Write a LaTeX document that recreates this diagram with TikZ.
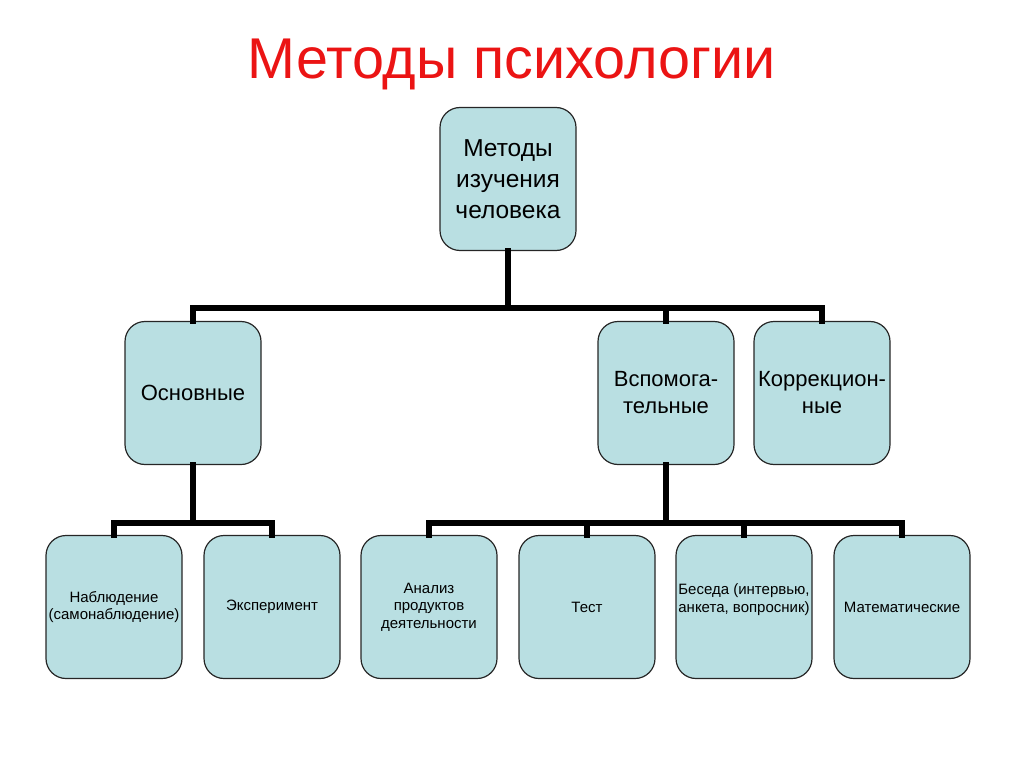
\documentclass[tikz,border=0pt]{standalone}
\usepackage{fontspec}
\setmainfont{Liberation Sans}
\definecolor{boxfill}{RGB}{185,223,226}
\definecolor{titlered}{RGB}{235,20,20}
\begin{document}
\begin{tikzpicture}[x=1pt,y=-1pt,
  box/.style={draw=black!85,line width=1.2pt,fill=boxfill,rounded corners=20pt,
    minimum width=136pt,minimum height=143pt,align=center,inner sep=1pt},
  big/.style={box,font=\fontsize{24.5}{31}\selectfont},
  mid/.style={box,font=\fontsize{22}{27}\selectfont},
  small/.style={box,font=\fontsize{15}{17.5}\selectfont},
  conn/.style={draw=black,line width=6pt,line cap=rect}]
\useasboundingbox (0,0) rectangle (1024,767);
\node[font=\fontsize{57.5}{60}\selectfont,text=titlered] (title) at (512,64) {Методы психологии};
\node[big] (top) at (508,179) {Методы\\изучения\\человека};
\node[mid] (osn) at (193,393) {Основные};
\node[mid] (vsp) at (666,393) {Вспомога-\\тельные};
\node[mid] (kor) at (822,393) {Коррекцион-\\ные};
\node[small] (nab) at (114,607) {Наблюдение\\(самонаблюдение)};
\node[small] (eks) at (272,607) {Эксперимент};
\node[small] (ana) at (429,607) {Анализ\\продуктов\\деятельности};
\node[small] (tes) at (587,607) {Тест};
\node[small,text depth=18pt] (bes) at (744,607) {Беседа (интервью,\\анкета, вопросник)};
\node[small] (mat) at (902,607) {Математические};
\coordinate (bus1) at (508,308);
\coordinate (bus2) at (193,523);
\coordinate (bus3) at (666,523);
\draw[conn] (top.south) -- (top.south |- bus1);
\draw[conn] (osn.north) -- (osn.north |- bus1) -- (kor.north |- bus1) -- (kor.north);
\draw[conn] (vsp.north) -- (vsp.north |- bus1);
\draw[conn] (osn.south) -- (bus2);
\draw[conn] (nab.north) -- (nab.north |- bus2) -- (eks.north |- bus2) -- (eks.north);
\draw[conn] (vsp.south) -- (bus3);
\draw[conn] (ana.north) -- (ana.north |- bus3) -- (mat.north |- bus3) -- (mat.north);
\draw[conn] (tes.north) -- (tes.north |- bus3);
\draw[conn] (bes.north) -- (bes.north |- bus3);
\end{tikzpicture}
\end{document}
